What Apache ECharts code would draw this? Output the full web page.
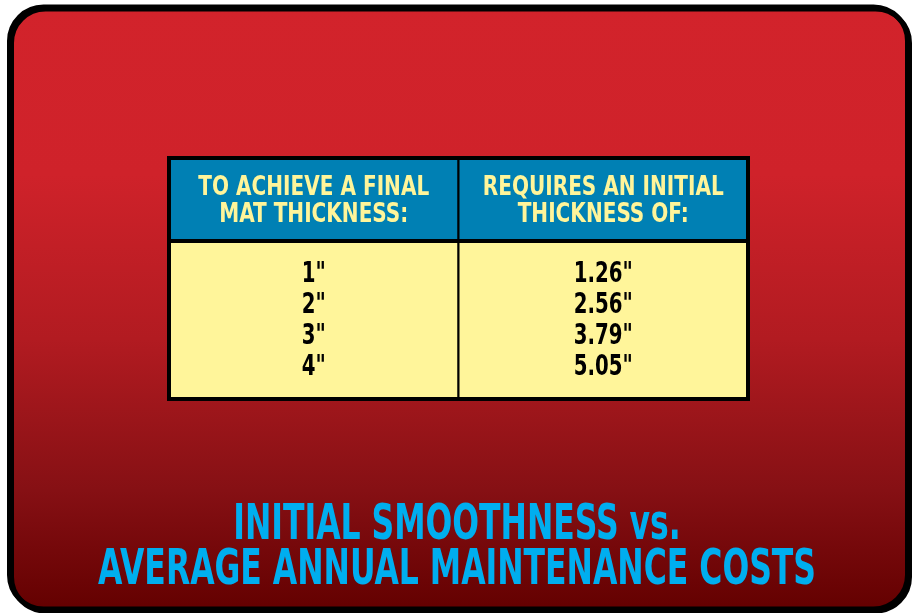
<!DOCTYPE html>
<html><head><meta charset="utf-8">
<script src="https://cdn.jsdelivr.net/npm/echarts@6/dist/echarts.min.js"></script>
<style>html,body{margin:0;padding:0;background:#fff}#c{width:914px;height:613px}</style>
</head><body><div id="c"></div>
<script>
// ---- data ----
var columnKeys = ['final', 'initial'];
var headerLines = [
  ['TO ACHIEVE A FINAL', 'MAT THICKNESS:'],
  ['REQUIRES AN INITIAL', 'THICKNESS OF:']
];
var finalThickness = ['1"', '2"', '3"', '4"'];
var initialThickness = ['1.26"', '2.56"', '3.79"', '5.05"'];
var titleLines = ['INITIAL SMOOTHNESS vs.', 'AVERAGE ANNUAL MAINTENANCE COSTS'];

// ---- layout / style ----
var FONT_FAMILY = "'Liberation Sans Narrow','DejaVu Sans Condensed','Liberation Sans',sans-serif";
var YELLOW = '#FFF59A', BLUE = '#0080B4', TITLE = '#00AEEF';
var ctx = document.createElement('canvas').getContext('2d');
function measure(text, font){ ctx.font = font; return ctx.measureText(text).width; }

var headFont = 'bold 26px ' + FONT_FAMILY;
var bodyFont = 'bold 29px ' + FONT_FAMILY;
var titleFont = 'bold 49px ' + FONT_FAMILY;
var headScale = 241 / measure(headerLines[1][0], headFont);
var bodyScale = 59 / measure(initialThickness[0], bodyFont);
var titleScale = 718 / measure(titleLines[1], titleFont);

var columns = [finalThickness, initialThickness];
var HEADER_H = 81; // px of header row
var ROW_START = 274 - 158, ROW_STEP = 31;

var chart = echarts.init(document.getElementById('c'), null, {renderer: 'canvas'});
chart.setOption({
  animation: false,
  backgroundColor: '#ffffff',
  grid: {left: 169, top: 158, width: 579, height: 241},
  xAxis: {type: 'category', data: columnKeys, show: false, boundaryGap: true},
  yAxis: {type: 'value', min: 0, max: 1, show: false},
  graphic: [
    {type: 'rect', z: -10, shape: {x: 9.5, y: 7, width: 898, height: 602, r: 34},
     style: {fill: new echarts.graphic.LinearGradient(0, 0, 0, 1, [
        {offset: 0, color: '#D2232B'}, {offset: 0.28, color: '#CF222A'},
        {offset: 0.55, color: '#B21B21'}, {offset: 0.8, color: '#861014'},
        {offset: 1, color: '#630000'}]),
       stroke: '#000', lineWidth: 5, shadowColor: '#000', shadowOffsetX: 2, shadowOffsetY: 2, shadowBlur: 0}},
    {type: 'group', z: 5, children: titleLines.map(function(t, i){
      return {type: 'text', x: 457, y: 526 + i * 45, scaleX: titleScale,
        style: {text: t, font: titleFont, fill: TITLE, align: 'center', verticalAlign: 'middle'}};
    })},
    {type: 'rect', z: 100, shape: {x: 169, y: 158, width: 579, height: 241},
     style: {fill: null, stroke: '#000', lineWidth: 4}},
    {type: 'line', z: 100, shape: {x1: 169, y1: 158 + HEADER_H + 2, x2: 748, y2: 158 + HEADER_H + 2},
     style: {stroke: '#000', lineWidth: 4}}
  ],
  series: [{
    type: 'custom',
    data: columnKeys.map(function(k, i){ return [i]; }),
    renderItem: function(params, api){
      var i = api.value(0);
      var cx = api.coord([i, 0])[0];
      var w = api.size([1, 0])[0];
      var cs = params.coordSys;
      var x0 = cx - w / 2;
      var children = [
        {type: 'rect', shape: {x: x0, y: cs.y, width: w, height: HEADER_H + 2}, style: {fill: BLUE, stroke: '#000', lineWidth: 2}},
        {type: 'rect', shape: {x: x0, y: cs.y + HEADER_H + 2, width: w, height: cs.height - HEADER_H - 2}, style: {fill: YELLOW, stroke: '#000', lineWidth: 2}}
      ];
      headerLines[i].forEach(function(t, j){
        children.push({type: 'text', x: cx, y: cs.y + 30 + j * 27, scaleX: headScale,
          style: {text: t, font: headFont, fill: YELLOW, align: 'center', verticalAlign: 'middle'}});
      });
      columns[i].forEach(function(t, j){
        children.push({type: 'text', x: cx, y: cs.y + ROW_START + j * ROW_STEP, scaleX: bodyScale,
          style: {text: t, font: bodyFont, fill: '#000', align: 'center', verticalAlign: 'middle'}});
      });
      return {type: 'group', children: children};
    }
  }]
});
</script></body></html>
